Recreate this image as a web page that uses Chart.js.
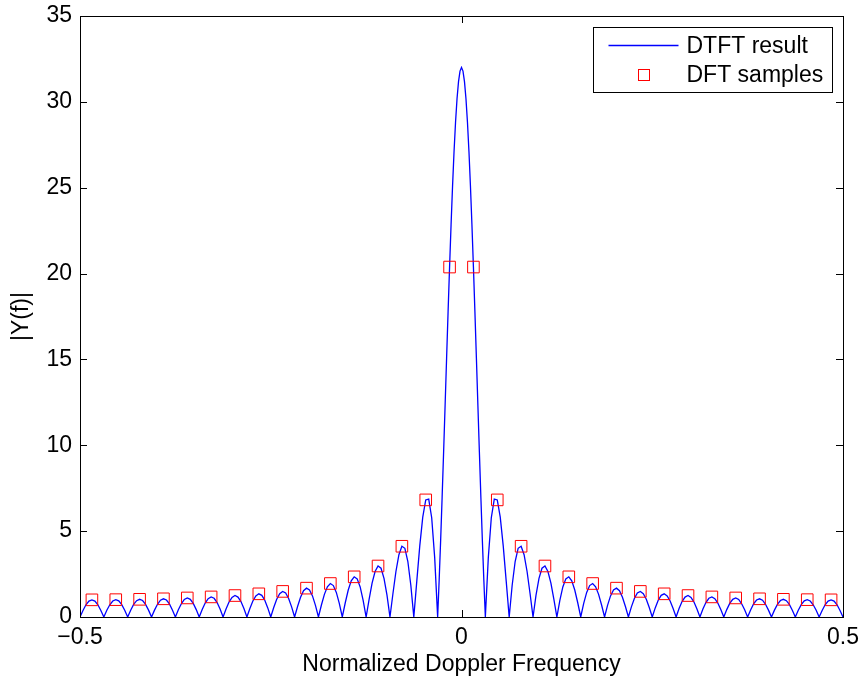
<!DOCTYPE html>
<html>
<head>
<meta charset="utf-8">
<script src="https://cdn.jsdelivr.net/npm/chart.js@4/dist/chart.umd.min.js"></script>
<style>
  html, body { margin: 0; padding: 0; background: #fff; }
  #wrap { width: 863px; height: 684px; position: relative; }
</style>
</head>
<body>
<div id="wrap"><canvas id="c" width="863" height="684"></canvas></div>
<script>
// ---- DATA ----
const freqs = [
  -0.5, -0.49609, -0.49219, -0.48828, -0.48438, -0.48047, -0.47656, -0.47266,
  -0.46875, -0.46484, -0.46094, -0.45703, -0.45313, -0.44922, -0.44531, -0.44141,
  -0.4375, -0.43359, -0.42969, -0.42578, -0.42188, -0.41797, -0.41406, -0.41016,
  -0.40625, -0.40234, -0.39844, -0.39453, -0.39063, -0.38672, -0.38281, -0.37891,
  -0.375, -0.37109, -0.36719, -0.36328, -0.35938, -0.35547, -0.35156, -0.34766,
  -0.34375, -0.33984, -0.33594, -0.33203, -0.32813, -0.32422, -0.32031, -0.31641,
  -0.3125, -0.30859, -0.30469, -0.30078, -0.29688, -0.29297, -0.28906, -0.28516,
  -0.28125, -0.27734, -0.27344, -0.26953, -0.26563, -0.26172, -0.25781, -0.25391,
  -0.25, -0.24609, -0.24219, -0.23828, -0.23438, -0.23047, -0.22656, -0.22266,
  -0.21875, -0.21484, -0.21094, -0.20703, -0.20313, -0.19922, -0.19531, -0.19141,
  -0.1875, -0.18359, -0.17969, -0.17578, -0.17188, -0.16797, -0.16406, -0.16016,
  -0.15625, -0.15234, -0.14844, -0.14453, -0.14063, -0.13672, -0.13281, -0.12891,
  -0.125, -0.12109, -0.11719, -0.11328, -0.10938, -0.10547, -0.10156, -0.09766,
  -0.09375, -0.08984, -0.08594, -0.08203, -0.07813, -0.07422, -0.07031, -0.06641,
  -0.0625, -0.05859, -0.05469, -0.05078, -0.04688, -0.04297, -0.03906, -0.03516,
  -0.03125, -0.0293, -0.02734, -0.02539, -0.02344, -0.02148, -0.01953, -0.01758,
  -0.01563, -0.01367, -0.01172, -0.00977, -0.00781, -0.00586, -0.00391, -0.00195,
  0,
  0.00195, 0.00391, 0.00586, 0.00781, 0.00977, 0.01172, 0.01367, 0.01563,
  0.01758, 0.01953, 0.02148, 0.02344, 0.02539, 0.02734, 0.0293, 0.03125,
  0.03516, 0.03906, 0.04297, 0.04688, 0.05078, 0.05469, 0.05859, 0.0625,
  0.06641, 0.07031, 0.07422, 0.07813, 0.08203, 0.08594, 0.08984, 0.09375,
  0.09766, 0.10156, 0.10547, 0.10938, 0.11328, 0.11719, 0.12109, 0.125,
  0.12891, 0.13281, 0.13672, 0.14063, 0.14453, 0.14844, 0.15234, 0.15625,
  0.16016, 0.16406, 0.16797, 0.17188, 0.17578, 0.17969, 0.18359, 0.1875,
  0.19141, 0.19531, 0.19922, 0.20313, 0.20703, 0.21094, 0.21484, 0.21875,
  0.22266, 0.22656, 0.23047, 0.23438, 0.23828, 0.24219, 0.24609, 0.25,
  0.25391, 0.25781, 0.26172, 0.26563, 0.26953, 0.27344, 0.27734, 0.28125,
  0.28516, 0.28906, 0.29297, 0.29688, 0.30078, 0.30469, 0.30859, 0.3125,
  0.31641, 0.32031, 0.32422, 0.32813, 0.33203, 0.33594, 0.33984, 0.34375,
  0.34766, 0.35156, 0.35547, 0.35938, 0.36328, 0.36719, 0.37109, 0.375,
  0.37891, 0.38281, 0.38672, 0.39063, 0.39453, 0.39844, 0.40234, 0.40625,
  0.41016, 0.41406, 0.41797, 0.42188, 0.42578, 0.42969, 0.43359, 0.4375,
  0.44141, 0.44531, 0.44922, 0.45313, 0.45703, 0.46094, 0.46484, 0.46875,
  0.47266, 0.47656, 0.48047, 0.48438, 0.48828, 0.49219, 0.49609, 0.5
];

const magnitudes = [
  0, 0.38, 0.71, 0.93, 1.00, 0.93, 0.71, 0.38,
  0, 0.39, 0.71, 0.93, 1.01, 0.94, 0.72, 0.39,
  0, 0.39, 0.73, 0.95, 1.03, 0.96, 0.73, 0.40,
  0, 0.40, 0.74, 0.98, 1.06, 0.99, 0.76, 0.41,
  0, 0.42, 0.77, 1.02, 1.11, 1.03, 0.79, 0.43,
  0, 0.44, 0.81, 1.07, 1.17, 1.09, 0.84, 0.46,
  0, 0.46, 0.87, 1.14, 1.25, 1.16, 0.90, 0.49,
  0, 0.50, 0.93, 1.23, 1.35, 1.26, 0.98, 0.53,
  0, 0.55, 1.03, 1.36, 1.49, 1.40, 1.08, 0.59,
  0, 0.61, 1.15, 1.53, 1.68, 1.58, 1.23, 0.68,
  0, 0.70, 1.32, 1.76, 1.95, 1.83, 1.43, 0.79,
  0, 0.83, 1.57, 2.11, 2.34, 2.22, 1.75, 0.97,
  0, 1.03, 1.97, 2.65, 2.97, 2.84, 2.25, 1.27,
  0, 1.37, 2.65, 3.63, 4.12, 4.00, 3.23, 1.85,
  0, 2.09, 4.14, 5.82, 6.82, 6.87, 5.78, 3.47,
  0, 2.12, 4.46, 6.97, 9.61, 12.33, 15.07, 17.77,
  20.38, 22.84, 25.10, 27.11, 28.81, 30.18, 31.18, 31.79,
  32,
  31.79, 31.18, 30.18, 28.81, 27.11, 25.10, 22.84, 20.38,
  17.77, 15.07, 12.33, 9.61, 6.97, 4.46, 2.12, 0,
  3.47, 5.78, 6.87, 6.82, 5.82, 4.14, 2.09, 0,
  1.85, 3.23, 4.00, 4.12, 3.63, 2.65, 1.37, 0,
  1.27, 2.25, 2.84, 2.97, 2.65, 1.97, 1.03, 0,
  0.97, 1.75, 2.22, 2.34, 2.11, 1.57, 0.83, 0,
  0.79, 1.43, 1.83, 1.95, 1.76, 1.32, 0.70, 0,
  0.68, 1.23, 1.58, 1.68, 1.53, 1.15, 0.61, 0,
  0.59, 1.08, 1.40, 1.49, 1.36, 1.03, 0.55, 0,
  0.53, 0.98, 1.26, 1.35, 1.23, 0.93, 0.50, 0,
  0.49, 0.90, 1.16, 1.25, 1.14, 0.87, 0.46, 0,
  0.46, 0.84, 1.09, 1.17, 1.07, 0.81, 0.44, 0,
  0.43, 0.79, 1.03, 1.11, 1.02, 0.77, 0.42, 0,
  0.41, 0.76, 0.99, 1.06, 0.98, 0.74, 0.40, 0,
  0.40, 0.73, 0.96, 1.03, 0.95, 0.73, 0.39, 0,
  0.39, 0.72, 0.94, 1.01, 0.93, 0.71, 0.39, 0,
  0.38, 0.71, 0.93, 1.00, 0.93, 0.71, 0.38, 0
];

const sampleFreqs = [
  -0.48438, -0.45313, -0.42188, -0.39063, -0.35938, -0.32813, -0.29688, -0.26563,
  -0.23438, -0.20313, -0.17188, -0.14063, -0.10938, -0.07813, -0.04688, -0.01563,
  0.01563, 0.04688, 0.07813, 0.10938, 0.14063, 0.17188, 0.20313, 0.23438,
  0.26563, 0.29688, 0.32813, 0.35938, 0.39063, 0.42188, 0.45313, 0.48438
];
const sampleMags = [
  1.00, 1.01, 1.03, 1.06, 1.11, 1.17, 1.25, 1.35,
  1.49, 1.68, 1.95, 2.34, 2.97, 4.12, 6.82, 20.38,
  20.38, 6.82, 4.12, 2.97, 2.34, 1.95, 1.68, 1.49,
  1.35, 1.25, 1.17, 1.11, 1.06, 1.03, 1.01, 1.00
];

const seriesNames = ['DTFT result', 'DFT samples'];
const xTicks = [-0.5, 0, 0.5];
const yTicks = [0, 5, 10, 15, 20, 25, 30, 35];
const xTitle = 'Normalized Doppler Frequency';
const yTitle = '|Y(f)|';

// ---- CHART ----
const FONT = "'Liberation Sans', Arial, Helvetica, sans-serif";
const FS = 23;

const framePlugin = {
  id: 'frame',
  afterDraw(chart) {
    const { ctx, chartArea: a, scales } = chart;
    const xs = scales.x, ys = scales.y;
    ctx.save();
    ctx.strokeStyle = '#000';
    ctx.lineWidth = 1;
    ctx.strokeRect(Math.round(a.left) + 0.5, Math.round(a.top) + 0.5,
                   Math.round(a.right - a.left), Math.round(a.bottom - a.top));
    const TL = 7;
    ctx.beginPath();
    yTicks.forEach(v => {
      const py = Math.round(ys.getPixelForValue(v)) + 0.5;
      ctx.moveTo(a.left, py); ctx.lineTo(a.left + TL, py);
      ctx.moveTo(a.right, py); ctx.lineTo(a.right - TL, py);
    });
    xTicks.forEach(v => {
      const px = Math.round(xs.getPixelForValue(v)) + 0.5;
      ctx.moveTo(px, a.bottom); ctx.lineTo(px, a.bottom - TL);
      ctx.moveTo(px, a.top); ctx.lineTo(px, a.top + TL);
    });
    ctx.stroke();

    // legend box
    const bw = 239, bh = 65;
    const bx = Math.round(a.right - 11 - bw) + 0.5;
    const by = Math.round(a.top + 11) + 0.5;
    ctx.fillStyle = '#fff';
    ctx.fillRect(bx, by, bw, bh);
    ctx.strokeStyle = '#000';
    ctx.strokeRect(bx, by, bw, bh);
    const ds = chart.data.datasets;
    const row1 = by + 18, row2 = by + 47;
    ctx.strokeStyle = ds[0].borderColor;
    ctx.lineWidth = ds[0].borderWidth;
    ctx.beginPath();
    ctx.moveTo(bx + 15, row1); ctx.lineTo(bx + 85, row1);
    ctx.stroke();
    ctx.strokeStyle = ds[1].borderColor;
    ctx.lineWidth = 1;
    ctx.strokeRect(Math.round(bx + 50 - 6) + 0.5, Math.round(row2 - 6) + 0.5, 11, 11);
    ctx.fillStyle = '#000';
    ctx.font = FS + 'px ' + FONT;
    ctx.textAlign = 'left';
    ctx.textBaseline = 'middle';
    ctx.fillText(ds[0].label, bx + 93, row1 + 1);
    ctx.fillText(ds[1].label, bx + 93, row2 + 1);
    ctx.restore();
  }
};

const dtftPoints = freqs.map((f, i) => ({ x: f, y: magnitudes[i] }));
const samplePoints = sampleFreqs.map((f, i) => ({ x: f, y: sampleMags[i] }));

new Chart(document.getElementById('c'), {
  type: 'scatter',
  data: {
    datasets: [
      {
        label: seriesNames[0],
        data: dtftPoints,
        showLine: true,
        borderColor: '#0000ff',
        backgroundColor: '#0000ff',
        borderWidth: 1.3,
        pointRadius: 0,
        tension: 0,
        order: 2
      },
      {
        label: seriesNames[1],
        data: samplePoints,
        showLine: false,
        pointStyle: 'rect',
        pointRadius: 8.2,
        borderColor: '#ff0000',
        backgroundColor: 'rgba(0,0,0,0)',
        borderWidth: 1,
        order: 1
      }
    ]
  },
  options: {
    responsive: false,
    animation: false,
    devicePixelRatio: 1,
    layout: { padding: { top: 16, right: 20, left: 0, bottom: 0 } },
    plugins: {
      legend: { display: false },
      tooltip: { enabled: false }
    },
    scales: {
      x: {
        type: 'linear',
        min: -0.5, max: 0.5,
        afterFit(scale) { scale.height = 67; scale.paddingLeft = 0; scale.paddingRight = 0; },
        afterBuildTicks(scale) { scale.ticks = xTicks.map(v => ({ value: v })); },
        grid: { display: false, drawTicks: false },
        border: { display: false },
        ticks: {
          padding: 7,
          color: '#000',
          font: { family: FONT, size: FS },
          maxRotation: 0,
          callback: v => (v < 0 ? '\u2212' + String(Math.abs(v)) : String(v))
        },
        title: {
          display: true,
          text: xTitle,
          color: '#000',
          font: { family: FONT, size: FS },
          padding: { top: 0, bottom: 6 }
        }
      },
      y: {
        type: 'linear',
        min: 0, max: 35,
        afterFit(scale) { scale.width = 80; scale.paddingTop = 0; scale.paddingBottom = 0; },
        afterBuildTicks(scale) { scale.ticks = yTicks.map(v => ({ value: v })); },
        grid: { display: false, drawTicks: false },
        border: { display: false },
        ticks: {
          padding: 8,
          color: '#000',
          font: { family: FONT, size: FS },
          callback: v => String(v)
        },
        title: {
          display: true,
          text: yTitle,
          color: '#000',
          font: { family: FONT, size: FS },
          padding: { top: 8, bottom: 0 }
        }
      }
    }
  },
  plugins: [framePlugin]
});
</script>
</body>
</html>
